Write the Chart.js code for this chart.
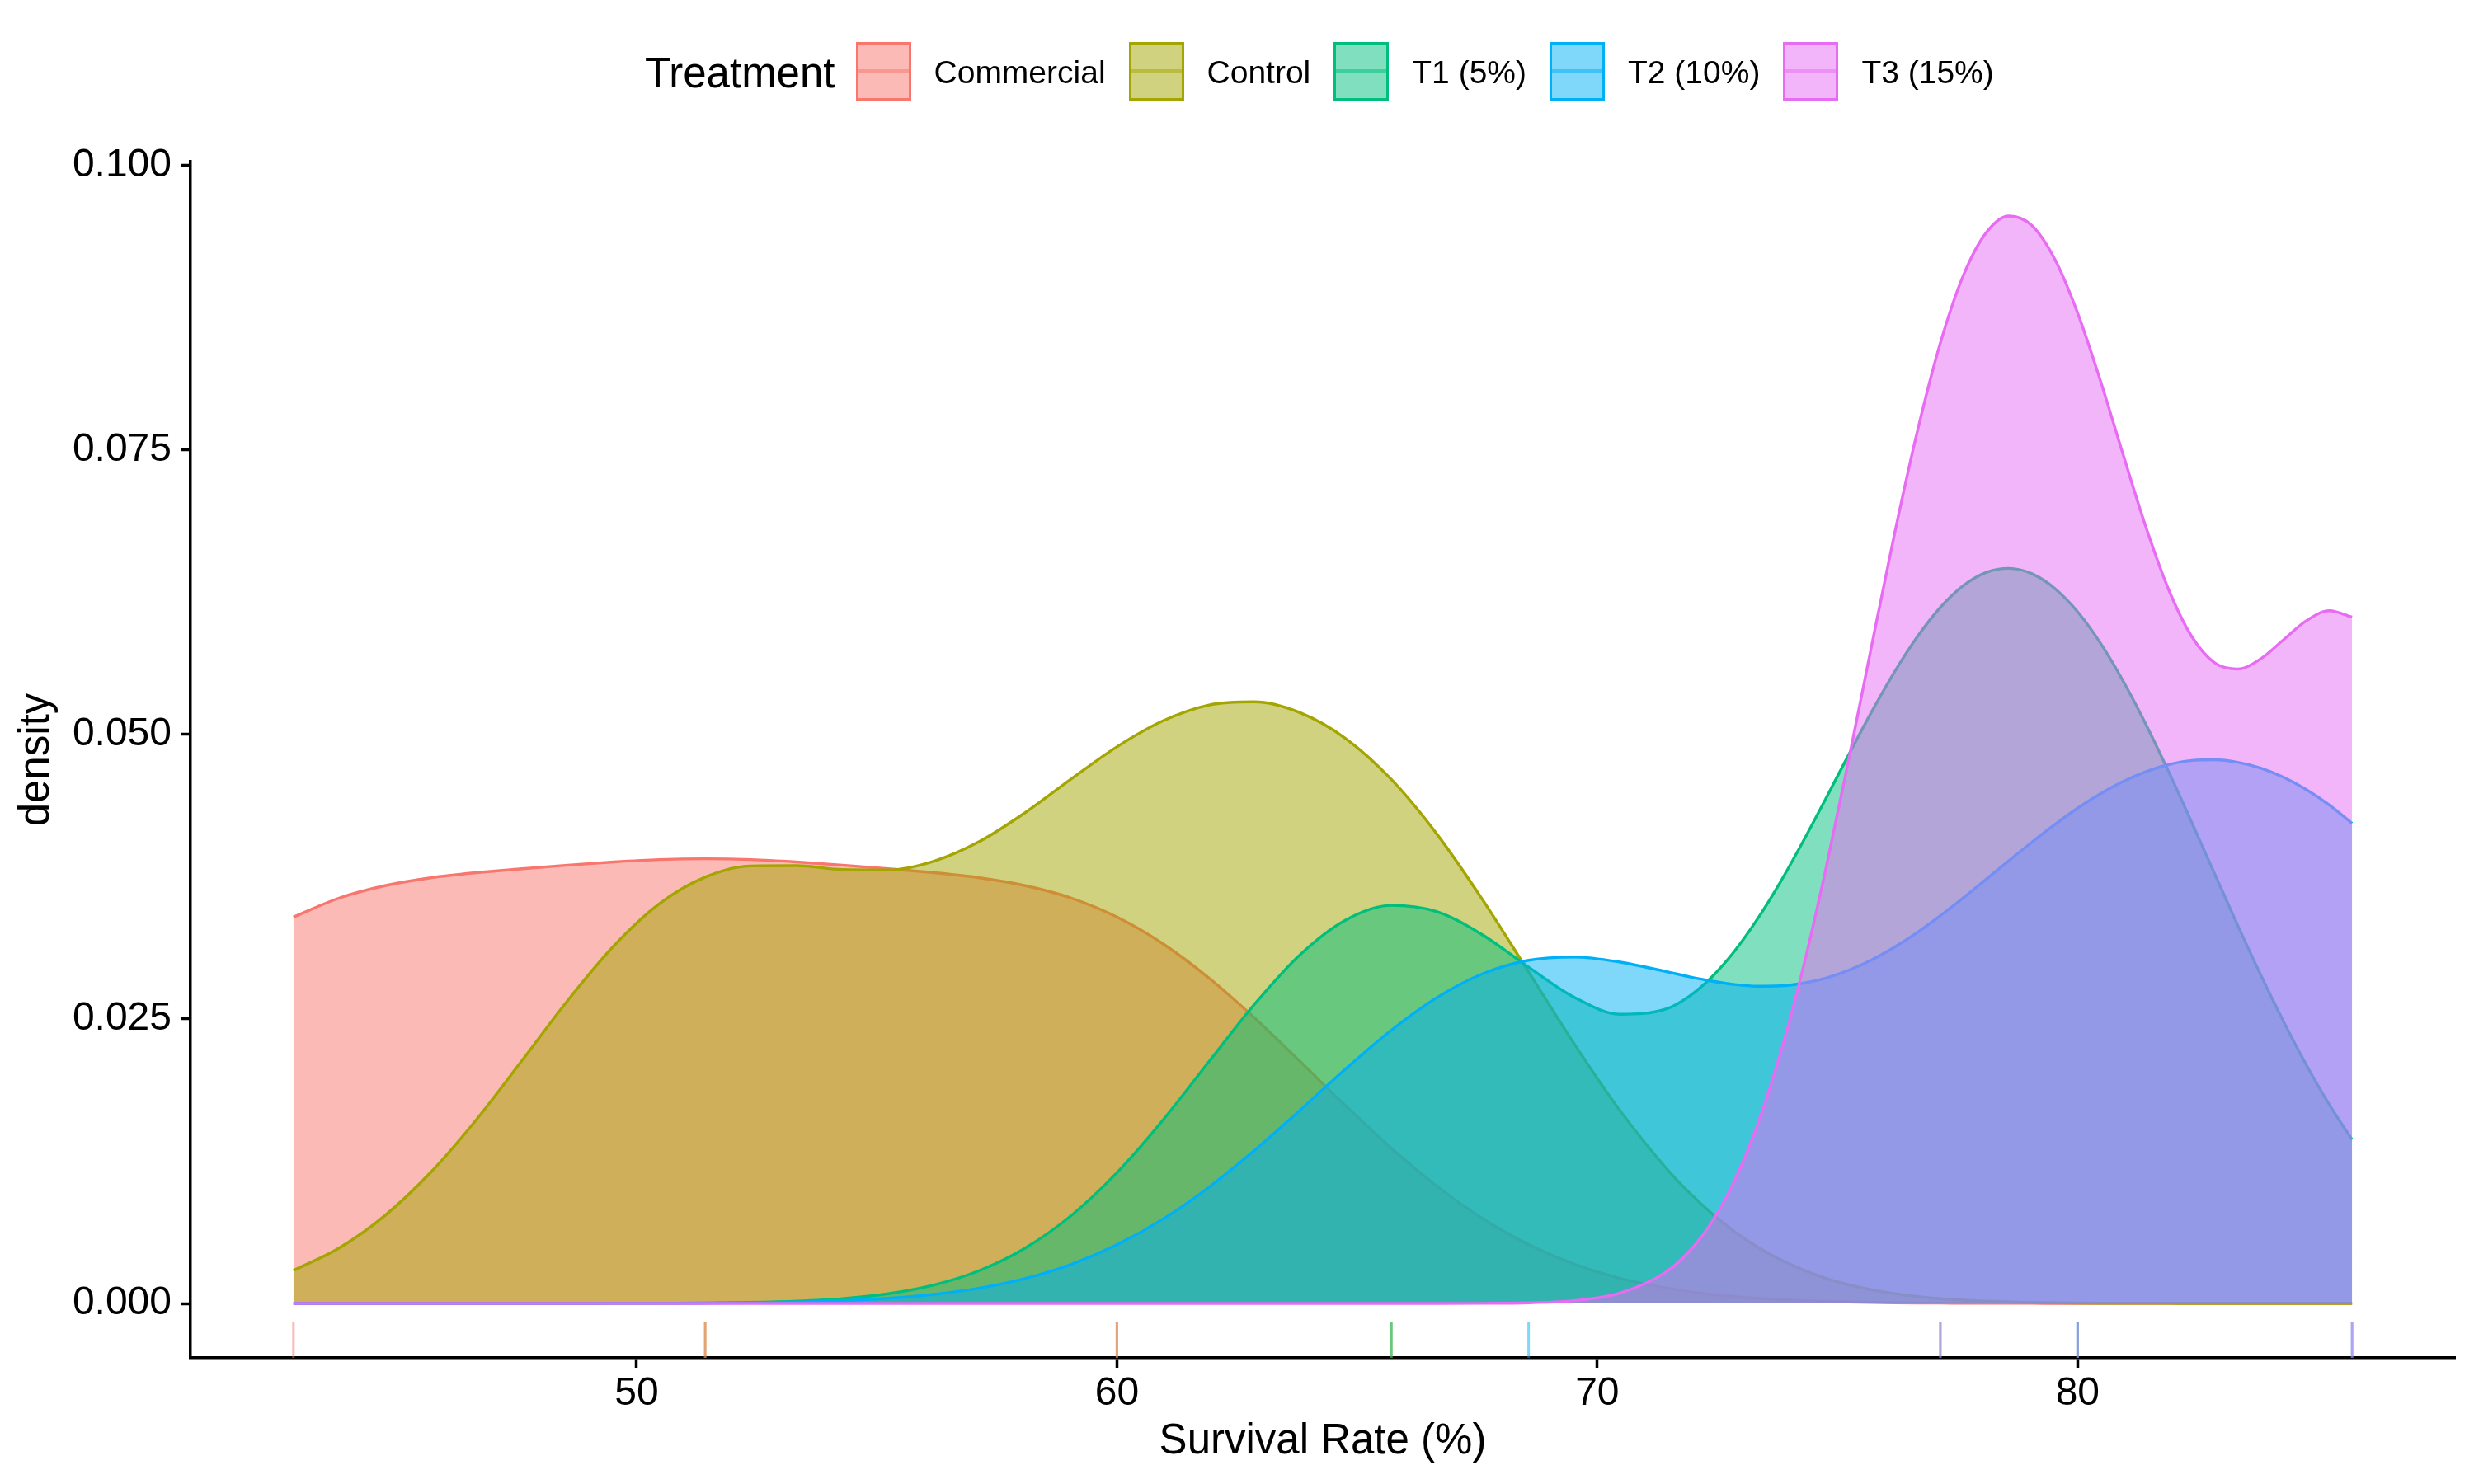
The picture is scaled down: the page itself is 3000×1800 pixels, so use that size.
<!DOCTYPE html>
<html>
<head>
<meta charset="utf-8">
<script src="https://cdn.jsdelivr.net/npm/chart.js@4.4.1/dist/chart.umd.min.js"></script>
<style>
  body { margin: 0; background: #fff; }
  #wrap { position: relative; width: 3000px; height: 1800px; }
  #legend {
    position: absolute; left: 782px; top: 50px; height: 72px;
    display: flex; align-items: center;
    font-family: "Liberation Sans", Arial, sans-serif; color: #000;
  }
  #legend .ltitle { font-size: 51px; margin-right: 25px; position: relative; top: 2px; }
  #legend .key { position: relative; width: 67px; height: 71px; box-sizing: border-box; border: 3px solid; }
  #legend .key i { position: absolute; left: 0; right: 0; top: 50%; height: 4px; margin-top: -2px; }
  #legend .lab { font-size: 39px; margin-left: 28px; margin-right: 28px; position: relative; top: 2px; }
</style>
</head>
<body>
<div id="wrap">
  <canvas id="chart" width="3000" height="1800"></canvas>
  <div id="legend"></div>
</div>
<script>
// survival rate (%) where the density curves were read (finer on the right, where the curves bend most)
var survival = [42.857, 43.810, 44.762, 45.714, 46.667, 47.619, 48.571, 49.524, 50.476, 51.429,
                52.381, 53.333, 54.286, 55.238, 56.190, 57.143, 58.095, 59.048, 60.000, 60.952,
                61.905, 62.857, 63.810, 64.762, 65.714, 66.667, 67.619, 68.571, 69.524, 70.476,
                71.429, 71.905, 72.381, 72.857, 73.333, 73.810, 74.286, 74.762, 75.238, 75.714,
                76.190, 76.667, 77.143, 77.619, 78.095, 78.571, 79.048, 79.524, 80.000, 80.476,
                80.952, 81.429, 81.905, 82.381, 82.857, 83.333, 83.810, 84.286, 84.762, 85.238,
                85.714];

var commercial = [0.03396, 0.03563, 0.03672, 0.03741, 0.03786, 0.03820, 0.03852, 0.03880, 0.03901, 0.03908,
                  0.03901, 0.03880, 0.03852, 0.03820, 0.03786, 0.03741, 0.03672, 0.03563, 0.03396, 0.03163,
                  0.02864, 0.02513, 0.02128, 0.01737, 0.01364, 0.01029, 0.00745, 0.00518, 0.00346, 0.00221,
                  0.00136, 0.00104, 0.00080, 0.00060, 0.00045, 0.00033, 0.00024, 0.00018, 0.00013, 0.00009,
                  0.00006, 0.00004, 0.00003, 0.00002, 0.00001, 0.00001, 0.00001, 0, 0, 0,
                  0, 0, 0, 0, 0, 0, 0, 0, 0, 0,
                  0];

var control = [0.00290, 0.00488, 0.00773, 0.01152, 0.01616, 0.02137, 0.02665, 0.03141, 0.03513, 0.03747,
               0.03845, 0.03847, 0.03813, 0.03810, 0.03887, 0.04061, 0.04315, 0.04609, 0.04892, 0.05119,
               0.05258, 0.05287, 0.05192, 0.04965, 0.04605, 0.04122, 0.03544, 0.02913, 0.02279, 0.01693,
               0.01191, 0.00978, 0.00792, 0.00632, 0.00497, 0.00385, 0.00294, 0.00221, 0.00164, 0.00120,
               0.00086, 0.00061, 0.00042, 0.00029, 0.00020, 0.00013, 0.00009, 0.00006, 0.00004, 0.00002,
               0.00001, 0.00001, 0.00001, 0, 0, 0, 0, 0, 0, 0,
               0];

var t1 = [0, 0, 0, 0, 0, 0, 0, 0.00001, 0.00001, 0.00004,
          0.00009, 0.00020, 0.00042, 0.00085, 0.00162, 0.00290, 0.00488, 0.00772, 0.01149, 0.01608,
          0.02119, 0.02626, 0.03064, 0.03370, 0.03499, 0.03443, 0.03237, 0.02955, 0.02690, 0.02542,
          0.02587, 0.02697, 0.02868, 0.03096, 0.03377, 0.03702, 0.04061, 0.04440, 0.04825, 0.05201,
          0.05551, 0.05861, 0.06117, 0.06308, 0.06424, 0.06460, 0.06413, 0.06284, 0.06079, 0.05803,
          0.05467, 0.05083, 0.04664, 0.04222, 0.03771, 0.03323, 0.02889, 0.02478, 0.02096, 0.01749,
          0.01439];

var t2 = [0, 0, 0, 0, 0, 0, 0, 0.00001, 0.00001, 0.00003,
          0.00006, 0.00013, 0.00024, 0.00045, 0.00080, 0.00135, 0.00220, 0.00344, 0.00516, 0.00740,
          0.01018, 0.01343, 0.01698, 0.02061, 0.02402, 0.02689, 0.02898, 0.03016, 0.03044, 0.03000,
          0.02917, 0.02872, 0.02833, 0.02803, 0.02788, 0.02791, 0.02815, 0.02860, 0.02929, 0.03020,
          0.03132, 0.03262, 0.03408, 0.03564, 0.03727, 0.03892, 0.04054, 0.04209, 0.04353, 0.04480,
          0.04589, 0.04675, 0.04737, 0.04772, 0.04778, 0.04756, 0.04705, 0.04624, 0.04516, 0.04381,
          0.04220];

var t3 = [0, 0, 0, 0, 0, 0, 0, 0, 0, 0,
          0, 0, 0, 0, 0, 0, 0, 0, 0, 0,
          0, 0, 0, 0, 0, 0, 0.00001, 0.00006, 0.00025, 0.00091,
          0.00276, 0.00453, 0.00713, 0.01079, 0.01568, 0.02192, 0.02950, 0.03825, 0.04786, 0.05785,
          0.06766, 0.07670, 0.08441, 0.09032, 0.09409, 0.09557, 0.09474, 0.09178, 0.08705, 0.08108,
          0.07453, 0.06815, 0.06264, 0.05858, 0.05629, 0.05576, 0.05665, 0.05833, 0.06000, 0.06088,
          0.06032];

// single observations shown as the rug under the axis
var rugCommercial = [42.857, 51.429, 60.000];
var rugControl = [51.429, 60.000, 65.714];
var rugT1 = [65.714, 77.143, 80.000];
var rugT2 = [68.571, 80.000, 85.714];
var rugT3 = [77.143, 80.000, 85.714];

var treatments = ["Commercial", "Control", "T1 (5%)", "T2 (10%)", "T3 (15%)"];
var xTicks = [50, 60, 70, 80];
var yTicks = [0, 0.025, 0.05, 0.075, 0.1];

var COLOURS = ["#F8766D", "#A3A500", "#00BF7D", "#00B0F6", "#E76BF3"];
var FONT = "'Liberation Sans', Arial, sans-serif";
const X_MIN = 40.714, X_MAX = 87.857;
const Y_MIN = -0.00478, Y_MAX = 0.10035;
// ggplot rug length is 3% of the panel height
const RUG_FRAC = 0.03;


function alpha(hex, a) {
    var r = parseInt(hex.substr(1, 2), 16);
    var g = parseInt(hex.substr(3, 2), 16);
    var b = parseInt(hex.substr(5, 2), 16);
    return "rgba(" + r + "," + g + "," + b + "," + a + ")";
}


function buildLegend(chart) {
    var box = document.getElementById("legend");
    box.innerHTML = "";
    var title = document.createElement("span");
    title.className = "ltitle";
    title.textContent = "Treatment";
    box.appendChild(title);
    chart.data.datasets.forEach(ds => {
        if (ds.type != "line")
            return;
        var key = document.createElement("span");
        key.className = "key";
        key.style.borderColor = ds.borderColor;
        key.style.background = ds.backgroundColor;
        var mid = document.createElement("i");
        mid.style.background = ds.rugColour;
        key.appendChild(mid);
        var lab = document.createElement("span");
        lab.className = "lab";
        lab.textContent = ds.label;
        box.appendChild(key);
        box.appendChild(lab);
    });
}


var densities = [commercial, control, t1, t2, t3];
var rugs = [rugCommercial, rugControl, rugT1, rugT2, rugT3];
// rug drawn control first, then commercial, then the T groups
var rugOrder = [4, 5, 3, 2, 1];
var rugY = Y_MIN + (Y_MAX - Y_MIN) * RUG_FRAC / 2;

var datasets = [];
densities.forEach((d, i) => {
    datasets.push({
        type: "line",
        label: treatments[i],
        data: survival.map((x, j) => ({x: x, y: d[j]})),
        borderColor: COLOURS[i],
        backgroundColor: alpha(COLOURS[i], 0.5),
        rugColour: alpha(COLOURS[i], 0.5),
        borderWidth: 3.4,
        fill: "origin",
        pointRadius: 0,
        cubicInterpolationMode: "monotone",
        order: 10 - i
    });
});
rugs.forEach((r, i) => {
    datasets.push({
        type: "scatter",
        label: treatments[i] + " rug",
        data: r.map(x => ({x: x, y: rugY})),
        pointStyle: "line",
        pointRotation: 90,
        pointRadius: ctx => ctx.chart.chartArea ? ctx.chart.chartArea.height * RUG_FRAC / 2 : 20,
        pointBorderColor: alpha(COLOURS[i], 0.5),
        pointBorderWidth: 3,
        order: rugOrder[i]
    });
});

var chart = new Chart(document.getElementById("chart"), {
    data: {datasets: datasets},
    plugins: [{id: "htmlLegend", afterUpdate: buildLegend}],
    options: {
        responsive: false,
        animation: false,
        devicePixelRatio: 1,
        events: [],
        layout: {padding: {top: 196, right: 2, bottom: 0, left: 0}},
        plugins: {
            legend: {display: false},
            tooltip: {enabled: false}
        },
        scales: {
            x: {
                type: "linear",
                min: X_MIN,
                max: X_MAX,
                afterBuildTicks: s => { s.ticks = xTicks.map(v => ({value: v})); },
                afterFit: s => { s.height = 153; },
                grid: {drawOnChartArea: false, drawTicks: true, tickLength: 12, tickWidth: 3.5, tickColor: "#000"},
                border: {display: true, color: "#000", width: 3.5},
                ticks: {color: "#000", font: {family: FONT, size: 48}, padding: 3, maxRotation: 0, autoSkip: false},
                title: {display: true, text: "Survival Rate (%)", color: "#000",
                        font: {family: FONT, size: 51}, padding: {top: 0, bottom: 20}}
            },
            y: {
                type: "linear",
                min: Y_MIN,
                max: Y_MAX,
                afterBuildTicks: s => { s.ticks = yTicks.map(v => ({value: v})); },
                afterFit: s => { s.width = 231; },
                grid: {drawOnChartArea: false, drawTicks: true, tickLength: 11, tickWidth: 3.5, tickColor: "#000"},
                border: {display: true, color: "#000", width: 3.5},
                ticks: {color: "#000", font: {family: FONT, size: 48}, padding: 12,
                        callback: v => v.toFixed(3)},
                title: {display: true, text: "density", color: "#000",
                        font: {family: FONT, size: 51}, padding: {top: 14, bottom: 0}}
            }
        }
    }
});
</script>
</body>
</html>
